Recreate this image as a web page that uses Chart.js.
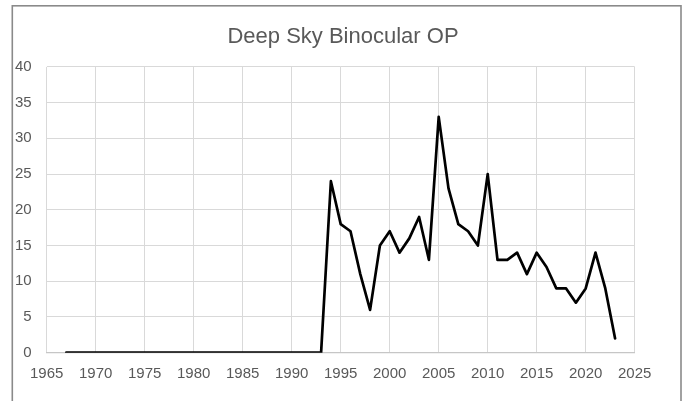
<!DOCTYPE html>
<html><head><meta charset="utf-8">
<script src="https://cdn.jsdelivr.net/npm/chart.js@4/dist/chart.umd.min.js"></script>
<style>html,body{margin:0;padding:0;background:#fff;overflow:hidden}#wrap{position:relative;width:686px;height:401px}</style>
</head><body><div id="wrap"><canvas id="c" width="686" height="401"></canvas></div>
<script>
const titleText = "Deep Sky Binocular OP";
const years = [1967,1968,1969,1970,1971,1972,1973,1974,1975,1976,1977,1978,1979,1980,1981,1982,1983,1984,1985,1986,1987,1988,1989,1990,1991,1992,1993,1994,1995,1996,1997,1998,1999,2000,2001,2002,2003,2004,2005,2006,2007,2008,2009,2010,2011,2012,2013,2014,2015,2016,2017,2018,2019,2020,2021,2022,2023];
const counts = [0,0,0,0,0,0,0,0,0,0,0,0,0,0,0,0,0,0,0,0,0,0,0,0,0,0,0,24,18,17,11,6,15,17,14,16,19,13,33,23,18,17,15,25,13,13,14,11,14,12,9,9,7,9,14,9,2];
const xTicks = [1965,1970,1975,1980,1985,1990,1995,2000,2005,2010,2015,2020,2025];
const yTicks = [0,5,10,15,20,25,30,35,40];

const FONT = "'Liberation Sans', Arial, sans-serif";
const TXT = '#595959';

const framePlugin = {
  id: 'frame',
  beforeDraw(chart) {
    const ctx = chart.ctx;
    ctx.save();
    ctx.fillStyle = '#fff';
    ctx.fillRect(0, 0, chart.width, chart.height);
    ctx.strokeStyle = '#8a8a8a';
    ctx.lineWidth = 1.6;
    ctx.strokeRect(12.3, 5.8, 668.7, 420);
    ctx.restore();
  }
};

new Chart(document.getElementById('c'), {
  type: 'line',
  data: {
    datasets: [{
      data: years.map((y, i) => ({ x: y, y: counts[i] })),
      borderColor: '#000',
      borderWidth: 2.7,
      borderJoinStyle: 'round',
      borderCapStyle: 'round',
      pointRadius: 0,
      tension: 0,
      fill: false
    }]
  },
  options: {
    responsive: false,
    animation: false,
    devicePixelRatio: 1,
    layout: { padding: { left: 0, right: 0, top: 0, bottom: 18 } },
    plugins: {
      legend: { display: false },
      tooltip: { enabled: false },
      title: {
        display: true,
        text: titleText,
        color: TXT,
        font: { family: FONT, size: 22, weight: 'normal', lineHeight: 1.2 },
        padding: { top: 24, bottom: 16.5 }
      }
    },
    scales: {
      x: {
        type: 'linear',
        min: xTicks[0],
        max: xTicks[xTicks.length - 1],
        afterBuildTicks(s) { s.ticks = xTicks.map(v => ({ value: v })); },
        ticks: {
          color: TXT,
          font: { family: FONT, size: 15 },
          padding: 12,
          maxRotation: 0,
          autoSkip: false,
          callback: v => String(v)
        },
        grid: { color: '#d9d9d9', lineWidth: 1, drawTicks: false },
        border: { display: true, color: '#c6c6c6', width: 1.3 },
        afterFit(s) { s.height = 30.3; }
      },
      y: {
        min: yTicks[0],
        max: yTicks[yTicks.length - 1],
        afterBuildTicks(s) { s.ticks = yTicks.map(v => ({ value: v })); },
        ticks: {
          color: TXT,
          font: { family: FONT, size: 15 },
          padding: 15,
          callback: v => String(v)
        },
        grid: { color: '#d9d9d9', lineWidth: 1, drawTicks: false },
        border: { display: false },
        afterFit(s) { s.width = 46.7; }
      },
      yR: {
        position: 'right',
        display: true,
        grid: { display: false, drawTicks: false },
        ticks: { display: false },
        border: { display: false },
        afterFit(s) { s.width = 51.3; }
      }
    }
  },
  plugins: [framePlugin]
});
</script></body></html>
